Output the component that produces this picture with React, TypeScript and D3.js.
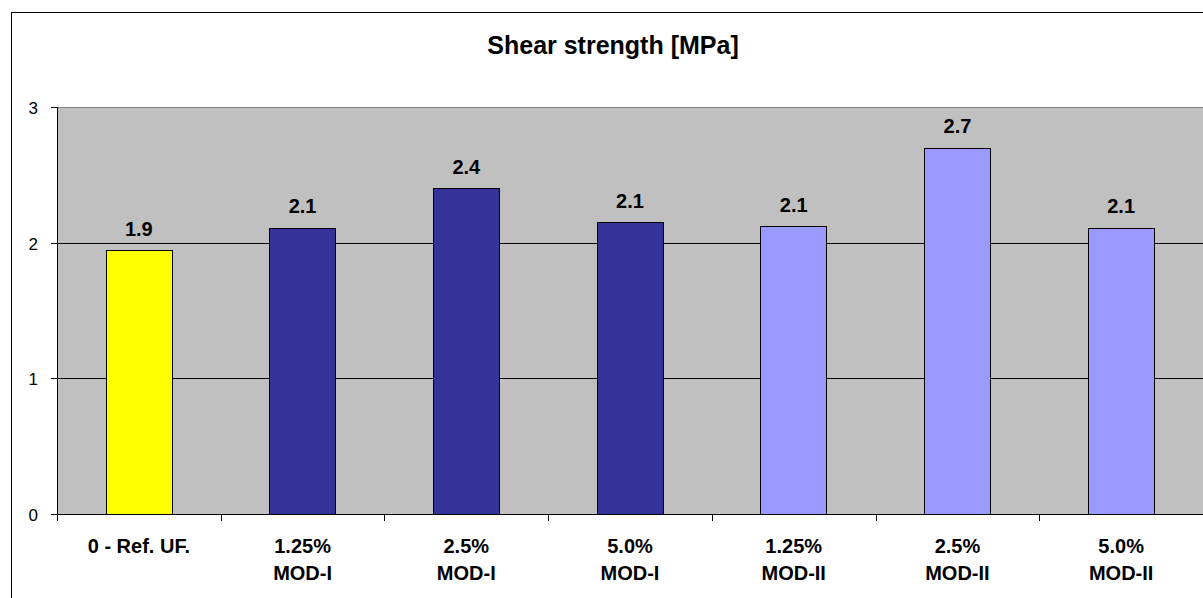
import React from "react";
import * as d3 from "d3";

const categories = [
  ["0 - Ref. UF."],
  ["1.25%", "MOD-I"],
  ["2.5%", "MOD-I"],
  ["5.0%", "MOD-I"],
  ["1.25%", "MOD-II"],
  ["2.5%", "MOD-II"],
  ["5.0%", "MOD-II"],
];
const values = [1.945, 2.11, 2.4, 2.15, 2.12, 2.7, 2.11];
const valueLabels = ["1.9", "2.1", "2.4", "2.1", "2.1", "2.7", "2.1"];
const colors = ["#FFFF00", "#333399", "#333399", "#333399", "#9999FF", "#9999FF", "#9999FF"];
const yTicks = [0, 1, 2, 3];
const title = "Shear strength [MPa]";

const W = 1203;
const H = 598;
const plot = { left: 57, right: 1203, top: 107, bottom: 514 };
const FONT = "'Liberation Sans', Arial, sans-serif";

export default function App() {
  const x = d3
    .scaleBand<number>()
    .domain(d3.range(values.length))
    .range([plot.left, plot.right])
    .padding(0);
  const y = d3.scaleLinear().domain([0, 3]).range([plot.bottom, plot.top]);
  const bw = x.bandwidth() * 0.406;
  const step = x.step();

  return (
    <svg
      width={W}
      height={H}
      style={{ position: "absolute", left: 0, top: 0, background: "#fff" }}
      fontFamily={FONT}
    >
      <rect x={11.5} y={12.5} width={1205} height={600} fill="#fff" stroke="#000" strokeWidth={1} />
      <text x={613} y={54} textAnchor="middle" fontSize={25} fontWeight="bold" fill="#000">
        {title}
      </text>
      <rect
        x={plot.left}
        y={plot.top}
        width={plot.right - plot.left}
        height={plot.bottom - plot.top}
        fill="#C0C0C0"
      />
      {yTicks
        .filter((t) => t > 0 && t < 3)
        .map((t) => (
          <line key={t} x1={plot.left} x2={plot.right} y1={Math.round(y(t)) + 0.5} y2={Math.round(y(t)) + 0.5} stroke="#000" strokeWidth={1} />
        ))}
      <line x1={plot.left} x2={plot.right} y1={plot.top + 0.5} y2={plot.top + 0.5} stroke="#808080" strokeWidth={1} />
      {values.map((v, i) => {
        const cx = (x(i) as number) + x.bandwidth() / 2;
        return (
          <g key={i}>
            <rect
              x={Math.round(cx - bw / 2) + 0.5}
              y={Math.round(y(v)) + 0.5}
              width={Math.round(bw)}
              height={Math.round(y(0)) - Math.round(y(v))}
              fill={colors[i]}
              stroke="#000"
              strokeWidth={1}
            />
            <text x={cx} y={y(v) - 14.5} textAnchor="middle" fontSize={20} fontWeight="bold" fill="#000">
              {valueLabels[i]}
            </text>
          </g>
        );
      })}
      {/* y axis */}
      <line x1={plot.left + 0.5} x2={plot.left + 0.5} y1={plot.top} y2={plot.bottom + 7} stroke="#000" />
      {yTicks.map((t) => (
        <g key={t}>
          <line x1={plot.left - 6} x2={plot.left} y1={Math.round(y(t)) + 0.5} y2={Math.round(y(t)) + 0.5} stroke="#000" />
          <text x={38} y={y(t) + 7} textAnchor="end" fontSize={17} fill="#000">
            {t}
          </text>
        </g>
      ))}
      {/* x axis */}
      <line x1={plot.left} x2={plot.right} y1={plot.bottom + 0.5} y2={plot.bottom + 0.5} stroke="#000" />
      {d3.range(values.length + 1).map((i) => (
        <line
          key={i}
          x1={Math.round(plot.left + i * step) + 0.5}
          x2={Math.round(plot.left + i * step) + 0.5}
          y1={plot.bottom}
          y2={plot.bottom + 7}
          stroke="#000"
        />
      ))}
      {categories.map((lines, i) => {
        const cx = (x(i) as number) + x.bandwidth() / 2;
        return (
          <text key={i} textAnchor="middle" fontSize={20} fontWeight="bold" fill="#000">
            {lines.map((l, j) => (
              <tspan key={j} x={cx} y={553 + j * 27}>
                {l}
              </tspan>
            ))}
          </text>
        );
      })}
    </svg>
  );
}
